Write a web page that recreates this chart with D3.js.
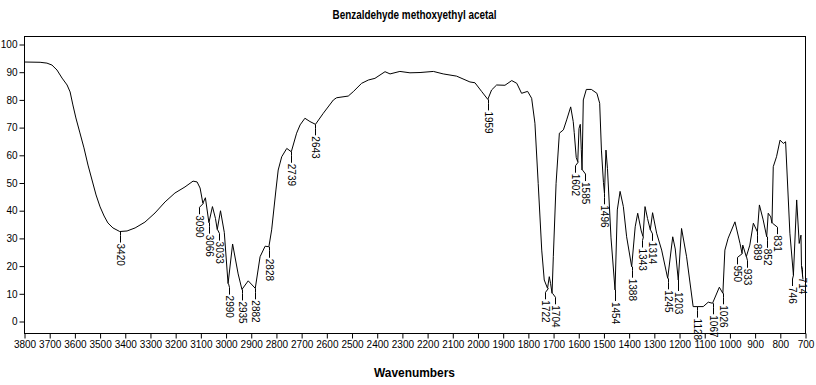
<!DOCTYPE html>
<html>
<head>
<meta charset="utf-8">
<script src="https://cdn.jsdelivr.net/npm/d3@7"></script>
<style>
  body { margin: 0; background: #fff; }
  svg { display: block; }
  text { font-family: "Liberation Sans Narrow", "Liberation Sans", Arial, sans-serif; fill: #000; }
</style>
</head>
<body>
<svg id="chart" width="816" height="385"></svg>
<script>
// spectrum: wavenumber (cm-1) and %T
const wavenumbers = [
  3800, 3736, 3709, 3689, 3669, 3649, 3629, 3617, 3606, 3594, 3578, 3562, 3546, 3530, 3514, 3498,
  3482, 3467, 3447, 3420, 3391, 3359, 3320, 3280, 3240, 3201, 3161, 3129, 3113, 3101, 3090, 3080,
  3066, 3052, 3040, 3033, 3020, 3005, 2990, 2972, 2950, 2935, 2910, 2882, 2863, 2843, 2828, 2817,
  2800, 2791, 2777, 2757, 2739, 2718, 2704, 2685, 2665, 2643, 2612, 2572, 2559, 2513, 2493, 2460,
  2433, 2407, 2367, 2347, 2308, 2268, 2228, 2175, 2136, 2083, 2030, 2010, 1983, 1959, 1944, 1924,
  1891, 1864, 1844, 1825, 1801, 1785, 1772, 1759, 1745, 1735, 1722, 1715, 1710, 1704, 1699, 1688,
  1675, 1659, 1646, 1630, 1620, 1616, 1608, 1602, 1597, 1592, 1588, 1585, 1580, 1568, 1548, 1526,
  1515, 1508, 1500, 1496, 1490, 1484, 1470, 1454, 1445, 1434, 1421, 1408, 1388, 1374, 1364, 1350,
  1343, 1335, 1325, 1314, 1305, 1289, 1269, 1245, 1225, 1215, 1203, 1190, 1170, 1144, 1128, 1104,
  1084, 1067, 1040, 1026, 1018, 1005, 978, 958, 950, 947, 933, 919, 905, 889, 881, 866,
  852, 846, 836, 831, 826, 813, 799, 786, 777, 760, 746, 733, 723, 716, 714, 708
];
const transmittance = [
  93.5, 93.4, 93.1, 92.4, 90.6, 87.7, 85.2, 82.7, 78.0, 73.3, 67.9, 62.5, 56.3, 50.9, 45.5, 41.2,
  37.9, 35.4, 33.6, 32.3, 32.5, 33.6, 35.7, 39.0, 43.0, 46.2, 48.4, 50.5, 50.2, 48.0, 42.5, 44.5,
  35.5, 41.3, 37.0, 33.0, 39.8, 32.0, 13.5, 27.8, 17.0, 11.4, 14.5, 11.8, 23.2, 27.0, 26.8, 32.9,
  47.3, 54.5, 59.3, 62.3, 61.1, 67.8, 70.8, 73.2, 72.0, 71.0, 75.0, 79.8, 80.6, 81.2, 82.8, 85.8,
  87.0, 87.6, 90.0, 89.2, 90.1, 89.6, 89.7, 90.1, 89.2, 88.4, 86.3, 86.0, 82.8, 80.0, 83.4, 85.2,
  85.1, 86.8, 85.8, 82.2, 82.9, 80.4, 71.4, 49.7, 25.6, 14.8, 11.8, 16.0, 13.6, 10.0, 23.2, 49.7,
  67.8, 69.0, 72.6, 77.3, 72.0, 68.0, 59.0, 57.5, 69.5, 71.0, 62.0, 54.5, 79.8, 83.6, 83.6, 82.2,
  78.6, 61.7, 50.0, 46.1, 61.7, 55.0, 30.0, 11.2, 40.1, 46.8, 41.3, 30.4, 19.6, 34.0, 38.9, 32.5,
  30.5, 41.3, 37.0, 32.9, 39.1, 31.7, 25.6, 15.4, 30.4, 26.0, 14.8, 33.4, 23.2, 5.2, 5.2, 5.2,
  6.8, 6.4, 12.2, 10.0, 25.6, 29.9, 35.8, 28.0, 24.4, 27.4, 23.2, 27.4, 35.3, 32.2, 41.9, 36.5,
  30.4, 38.9, 37.6, 35.3, 55.7, 59.3, 65.3, 64.1, 64.7, 31.7, 16.6, 43.7, 28.0, 31.0, 20.0, 15.0
];
const peaks = [
  3420, 3090, 3066, 3033, 2990, 2935, 2882, 2828, 2739, 2643, 1959, 1722, 1704, 1602, 1585, 1496,
  1454, 1388, 1343, 1314, 1245, 1203, 1128, 1067, 1026, 950, 933, 889, 852, 831, 746, 714
];
const xTicks = d3.range(3800, 699, -100);
const yTicks = d3.range(0, 101, 10);

const titleText = "Benzaldehyde methoxyethyl acetal";
const xTitle = "Wavenumbers";

const svg = d3.select("#chart");
const plotLeft = 24, plotRight = 805, plotTop = 36, plotBottom = 333;

let x = d3.scaleLinear().domain([3800, 700]).range([plotLeft, plotRight]);
let y = d3.scaleLinear().domain([0, 100]).range([321, 44]);

let data = wavenumbers.map((w, i) => ({ w: w, t: transmittance[i] }));

// frame
svg.append("rect")
  .attr("x", plotLeft + 0.5).attr("y", plotTop + 0.5)
  .attr("width", plotRight - plotLeft).attr("height", plotBottom - plotTop)
  .attr("fill", "none").attr("stroke", "#000").attr("stroke-width", 1);

// axes
let xAxis = d3.axisBottom(x).tickValues(xTicks).tickSize(5).tickSizeOuter(0).tickFormat(d3.format("d"));
let gx = svg.append("g").attr("transform", `translate(0.5,${plotBottom + 0.5})`).call(xAxis);
gx.select(".domain").remove();
gx.selectAll("text").attr("font-size", 10).attr("dy", "0.6em");

let yAxis = d3.axisLeft(y).tickValues(yTicks).tickSize(5).tickSizeOuter(0).tickFormat(d3.format("d"));
let gy = svg.append("g").attr("transform", `translate(${plotLeft + 0.5},0.5)`).call(yAxis);
gy.select(".domain").remove();
gy.selectAll("text").attr("font-size", 10).attr("x", -7);

// spectrum
let line = d3.line().x(d => x(d.w)).y(d => y(d.t));
svg.append("path")
  .datum(data)
  .attr("d", line)
  .attr("fill", "none")
  .attr("stroke", "#000")
  .attr("stroke-width", 1);

// peak labels
let bis = d3.bisector(d => -d.w).left;
let valueAt = (w) => {
  let i = bis(data, -w);
  if (i <= 0) return data[0].t;
  if (i >= data.length) return data[data.length - 1].t;
  let a = data[i - 1], b = data[i];
  let f = (a.w - w) / (a.w - b.w);
  return a.t + f * (b.t - a.t);
};
let labels = peaks.map(p => ({ p: p, px: x(p), py: y(valueAt(p)) }))
  .sort((a, b) => a.px - b.px);
labels.forEach(l => l.lx = l.px);
// spread labels that would overlap
for (let k = 0; k < 80; k++) {
  for (let i = 1; i < labels.length; i++) {
    let gap = labels[i].lx - labels[i - 1].lx;
    if (gap < 10) {
      let push = (10 - gap) / 2;
      labels[i - 1].lx -= push;
      labels[i].lx += push;
    }
  }
}

let lg = svg.append("g");
labels.forEach(l => {
  let lx = Math.round(l.lx) + 0.5;
  lg.append("path")
    .attr("d", `M${Math.round(l.px) + 0.5},${l.py}L${lx},${l.py + 4}L${lx},${l.py + 11}`)
    .attr("fill", "none").attr("stroke", "#000").attr("stroke-width", 1);
  lg.append("text")
    .attr("transform", `translate(${lx},${l.py + 12}) rotate(90)`)
    .attr("font-size", 10)
    .attr("dominant-baseline", "central")
    .text(l.p);
});

// titles
svg.append("text")
  .attr("x", (plotLeft + plotRight) / 2).attr("y", 19)
  .attr("text-anchor", "middle").attr("font-weight", "bold").attr("font-size", 12)
  .attr("textLength", 164).attr("lengthAdjust", "spacingAndGlyphs")
  .text(titleText);
svg.append("text")
  .attr("x", (plotLeft + plotRight) / 2).attr("y", 377)
  .attr("text-anchor", "middle").attr("font-weight", "bold").attr("font-size", 12)
  .attr("textLength", 81).attr("lengthAdjust", "spacingAndGlyphs")
  .text(xTitle);
</script>
</body>
</html>
